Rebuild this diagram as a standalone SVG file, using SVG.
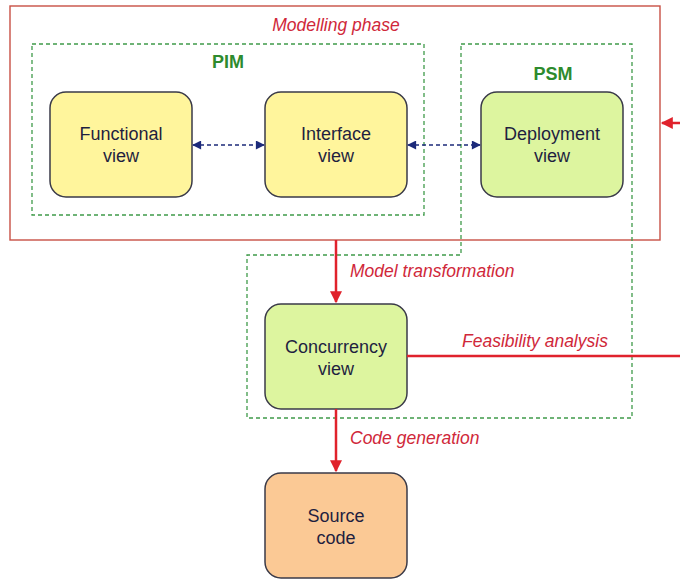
<svg xmlns="http://www.w3.org/2000/svg" width="680" height="579" viewBox="0 0 680 579">
  <style>
    .node { stroke: #3a3a48; stroke-width: 1.5; }
    .pim { fill: #fff59c; }
    .psm { fill: #ddf59f; }
    .src { fill: #fbc995; }
    .ntext { font-family: "Liberation Sans", Arial, sans-serif; font-size: 18px; fill: #1f1f3f; text-anchor: middle; }
    .lbl { font-family: "Liberation Sans", Arial, sans-serif; font-size: 17.5px; font-style: italic; fill: #d0283a; }
    .grp { font-family: "Liberation Sans", Arial, sans-serif; font-size: 18px; font-weight: bold; fill: #2e8b2e; text-anchor: middle; }
    .zone { fill: none; stroke: #3f9a4a; stroke-width: 1.3; stroke-dasharray: 4 3; }
    .link { fill: none; stroke: #1c2a7a; stroke-width: 1.5; stroke-dasharray: 4 3; }
    .flow { fill: none; stroke: #e0222c; stroke-width: 2.5; }
  </style>
  <defs>
    <marker id="blue" viewBox="0 0 10 10" refX="9" refY="5" markerWidth="10" markerHeight="9" orient="auto-start-reverse" markerUnits="userSpaceOnUse">
      <path d="M0,0 L10,5 L0,10 z" fill="#1c2a7a"/>
    </marker>
    <marker id="red" viewBox="0 0 10 10" refX="9" refY="5" markerWidth="13" markerHeight="12" orient="auto" markerUnits="userSpaceOnUse">
      <path d="M0,0 L10,5 L0,10 z" fill="#e0222c"/>
    </marker>
  </defs>

  <rect width="680" height="579" fill="#ffffff"/>

  <!-- modelling phase frame -->
  <g id="modelling-phase">
    <rect x="10" y="6" width="650" height="234" fill="none" stroke="#c85045" stroke-width="1.4"/>
    <text class="lbl" x="336" y="31" text-anchor="middle">Modelling phase</text>
  </g>

  <!-- PIM / PSM regions -->
  <g id="pim-zone">
    <rect class="zone" x="32" y="44" width="392" height="171"/>
    <text class="grp" x="228" y="68">PIM</text>
  </g>
  <g id="psm-zone">
    <path class="zone" d="M461,44 H632 V418 H247 V255 H461 Z"/>
    <text class="grp" x="553" y="80">PSM</text>
  </g>

  <!-- nodes -->
  <g id="functional-view">
    <rect class="node pim" x="50" y="92" width="142" height="105" rx="16"/>
    <text class="ntext" x="121" y="140">Functional</text>
    <text class="ntext" x="121" y="162">view</text>
  </g>
  <g id="interface-view">
    <rect class="node pim" x="265" y="92" width="142" height="105" rx="16"/>
    <text class="ntext" x="336" y="140">Interface</text>
    <text class="ntext" x="336" y="162">view</text>
  </g>
  <g id="deployment-view">
    <rect class="node psm" x="481" y="92" width="142" height="105" rx="16"/>
    <text class="ntext" x="552" y="140">Deployment</text>
    <text class="ntext" x="552" y="162">view</text>
  </g>
  <g id="concurrency-view">
    <rect class="node psm" x="265" y="304" width="142" height="105" rx="16"/>
    <text class="ntext" x="336" y="353">Concurrency</text>
    <text class="ntext" x="336" y="375">view</text>
  </g>
  <g id="source-code">
    <rect class="node src" x="265" y="473" width="142" height="105" rx="16"/>
    <text class="ntext" x="336" y="522">Source</text>
    <text class="ntext" x="336" y="544">code</text>
  </g>

  <!-- connectors -->
  <g id="connectors">
    <line class="link" x1="193" y1="145" x2="264" y2="145" marker-start="url(#blue)" marker-end="url(#blue)"/>
    <line class="link" x1="408" y1="145" x2="480" y2="145" marker-start="url(#blue)" marker-end="url(#blue)"/>
    <line class="flow" x1="336" y1="240" x2="336" y2="302" marker-end="url(#red)"/>
    <line class="flow" x1="336" y1="409" x2="336" y2="471" marker-end="url(#red)"/>
    <!-- feedback loop runs past the right edge of the canvas -->
    <path class="flow" d="M407,356 H690 V123 H662" marker-end="url(#red)"/>
    <text class="lbl" x="350" y="277">Model transformation</text>
    <text class="lbl" x="462" y="347">Feasibility analysis</text>
    <text class="lbl" x="350" y="444">Code generation</text>
  </g>
</svg>
